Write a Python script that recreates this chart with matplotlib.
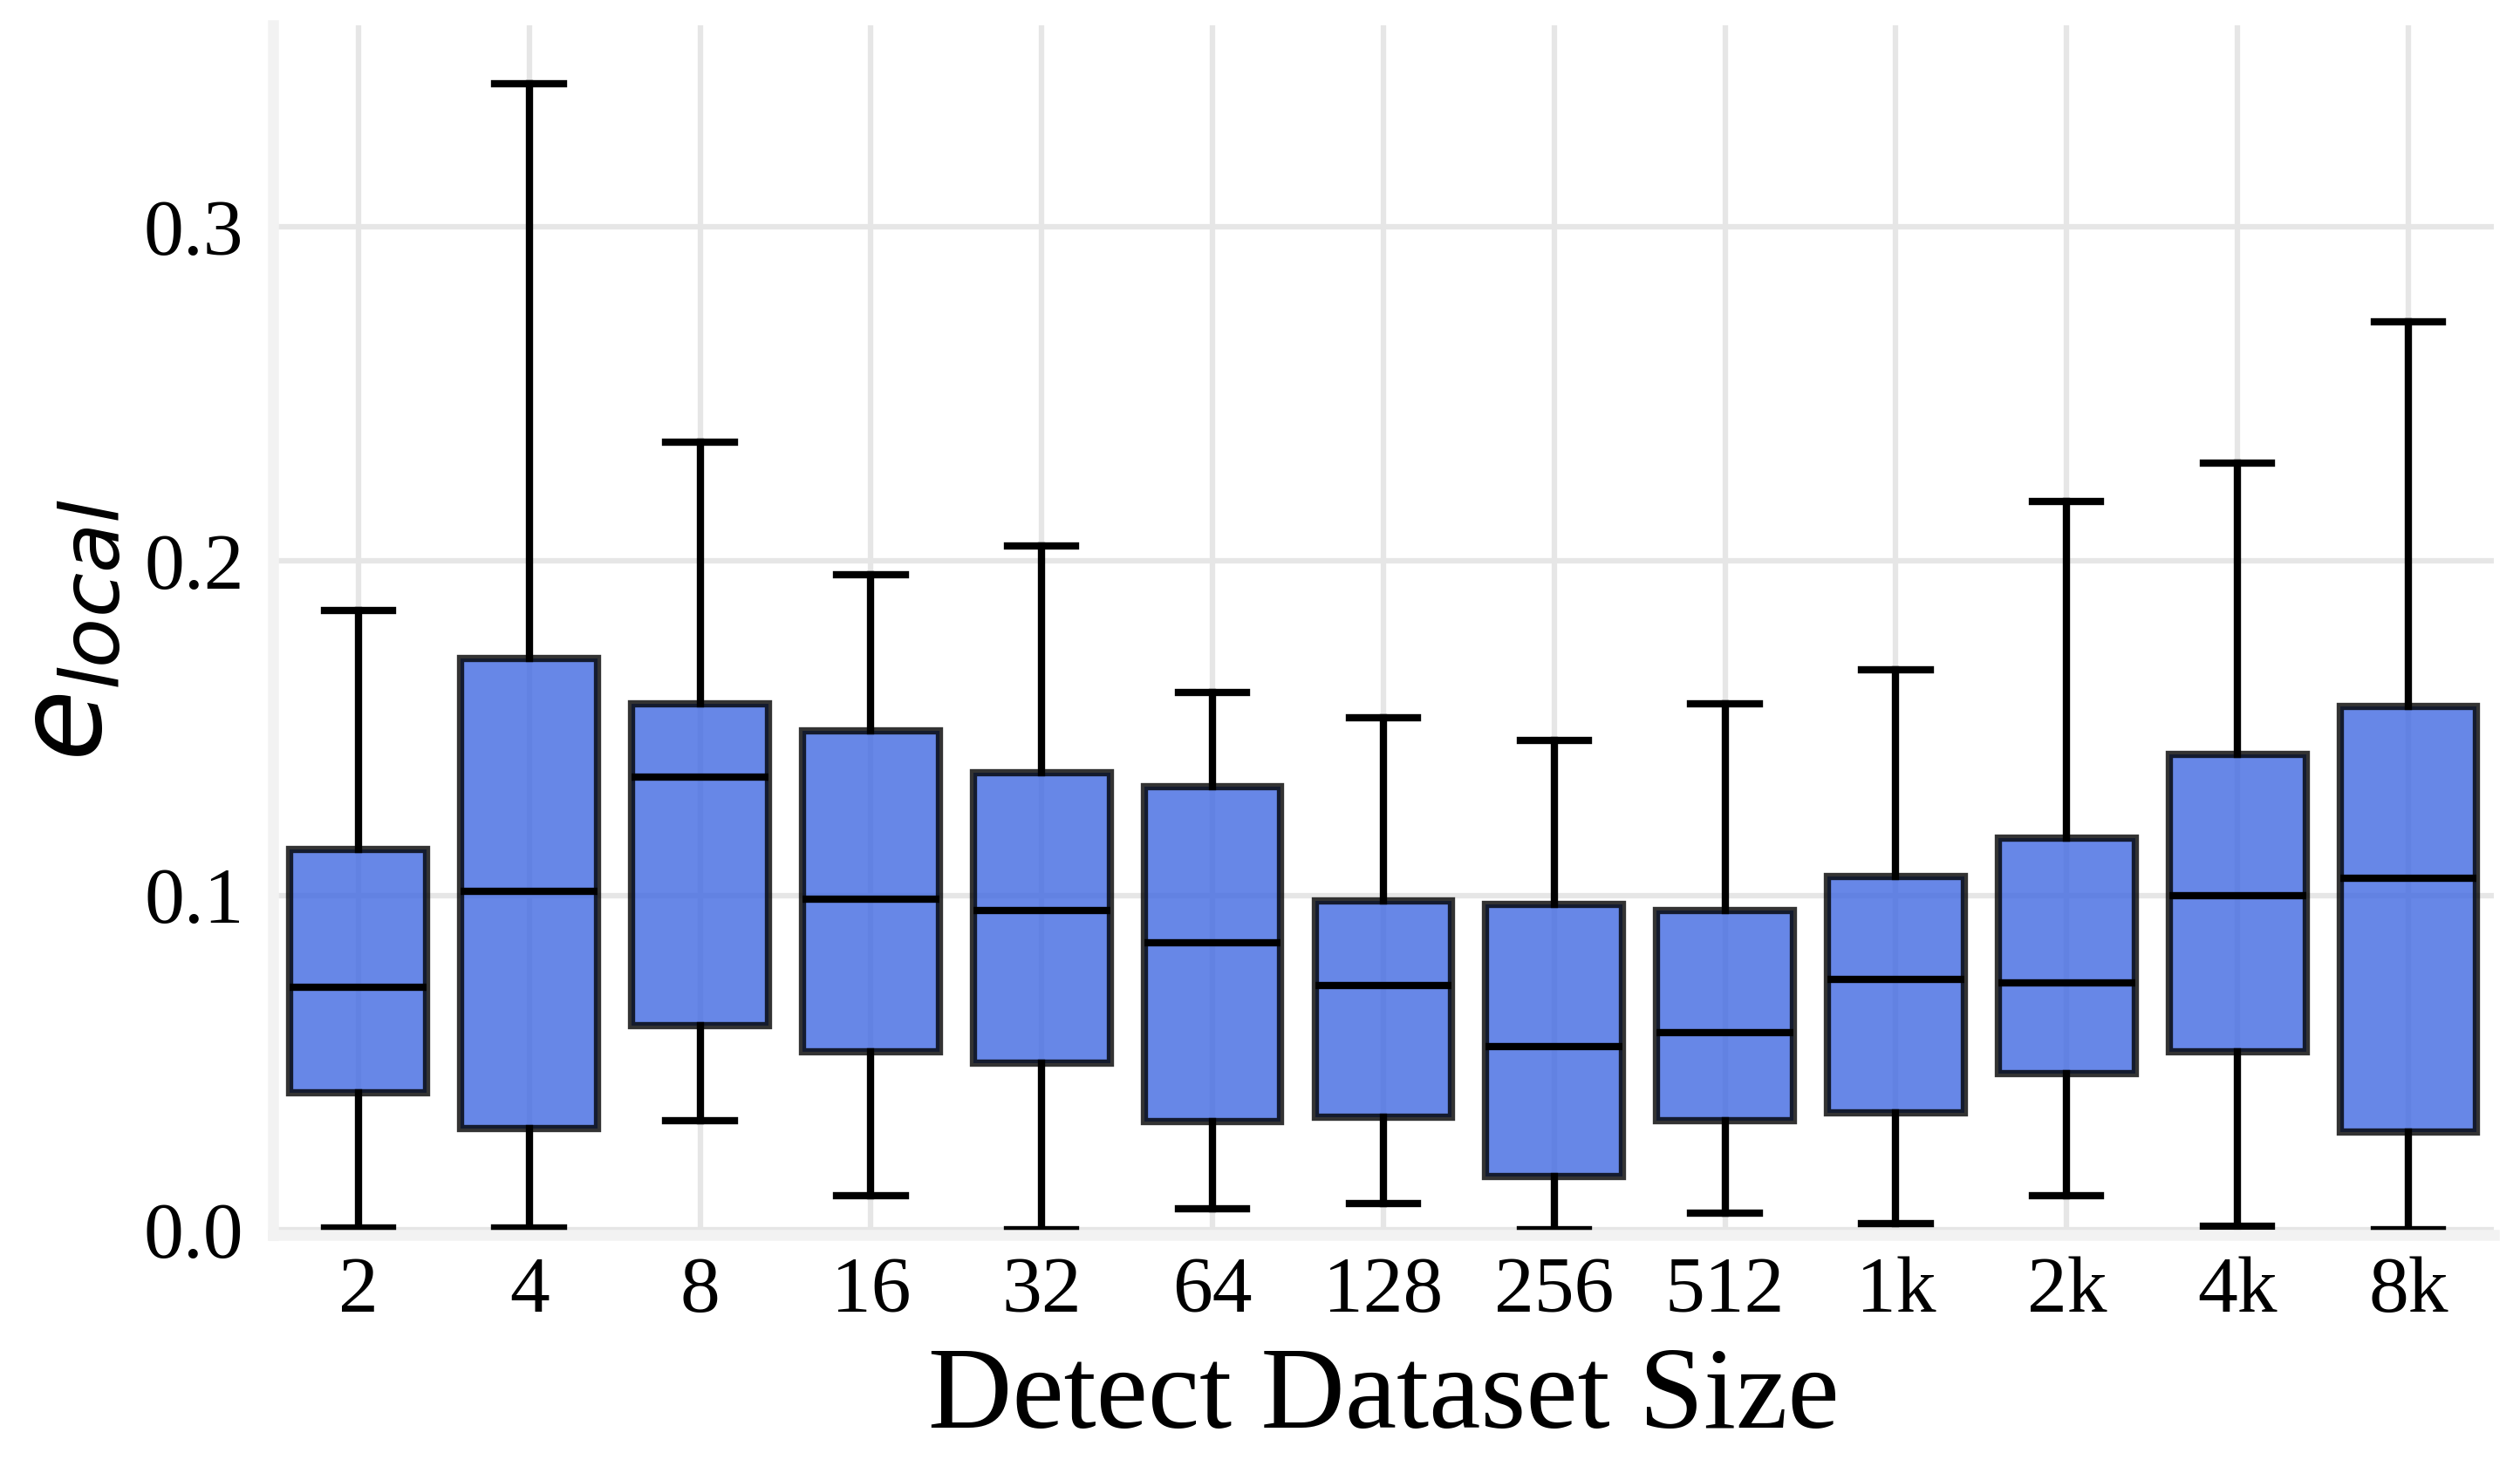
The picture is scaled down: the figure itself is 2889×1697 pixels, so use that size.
import numpy as np
import matplotlib
matplotlib.use("Agg")
import matplotlib.pyplot as plt

plt.rcParams['font.family'] = ['Liberation Serif', 'DejaVu Serif']
plt.rcParams['mathtext.fontset'] = 'dejavusans'

# dataset sizes and box statistics
sizes = ['2', '4', '8', '16', '32', '64', '128', '256', '512', '1k', '2k', '4k', '8k']
whisker_low = [0.0005, 0.0005, 0.0326, 0.0101, 0.0000, 0.0062, 0.0077, 0.0000, 0.0048, 0.0019, 0.0101, 0.0010, 0.0000]
q1 = [0.0408, 0.0302, 0.0610, 0.0533, 0.0499, 0.0322, 0.0336, 0.0158, 0.0326, 0.0350, 0.0466, 0.0533, 0.0293]
median = [0.0725, 0.1013, 0.1354, 0.0989, 0.0955, 0.0859, 0.0730, 0.0547, 0.0590, 0.0749, 0.0739, 0.0998, 0.1051]
q3 = [0.1138, 0.1709, 0.1574, 0.1493, 0.1368, 0.1325, 0.0984, 0.0974, 0.0955, 0.1056, 0.1171, 0.1421, 0.1565]
whisker_high = [0.1853, 0.3427, 0.2357, 0.1958, 0.2045, 0.1608, 0.1531, 0.1464, 0.1574, 0.1675, 0.2179, 0.2294, 0.2717]

stats = []
for i, s in enumerate(sizes):
    stats.append({'label': s, 'whislo': whisker_low[i], 'q1': q1[i], 'med': median[i],
                  'q3': q3[i], 'whishi': whisker_high[i], 'fliers': []})

fig = plt.figure(figsize=(2889 / 300, 1697 / 300), dpi=300)
ax = fig.add_axes([0.1083, 0.1656, 0.8813, 0.8173])

ax.set_axisbelow(True)
ax.grid(True, color='#e6e6e6', linewidth=1.5)

bp = ax.bxp(stats, positions=np.arange(len(sizes)), widths=0.8, capwidths=0.4,
            patch_artist=True, showfliers=False,
            boxprops=dict(facecolor='royalblue', edgecolor='black', linewidth=2, alpha=0.8),
            medianprops=dict(color='black', linewidth=2),
            whiskerprops=dict(color='black', linewidth=2),
            capprops=dict(color='black', linewidth=2))

ax.set_xlim(-0.5, 12.5)
ax.set_ylim(-0.0016, 0.3603)
ax.set_yticks([0.0, 0.1, 0.2, 0.3])
ax.set_yticklabels(['0.0', '0.1', '0.2', '0.3'])
ax.tick_params(axis='both', length=0, labelsize=22)
ax.tick_params(axis='y', pad=8)
ax.tick_params(axis='x', pad=6)

for side in ['top', 'right']:
    ax.spines[side].set_visible(False)
for side in ['left', 'bottom']:
    ax.spines[side].set_color('#f2f2f2')
    ax.spines[side].set_linewidth(3)

ax.set_xlabel('Detect Dataset Size', fontsize=32, labelpad=5)
ax.set_ylabel(r'$e_{local}$', fontsize=32, labelpad=5)

fig.savefig('out.png', dpi=300)
